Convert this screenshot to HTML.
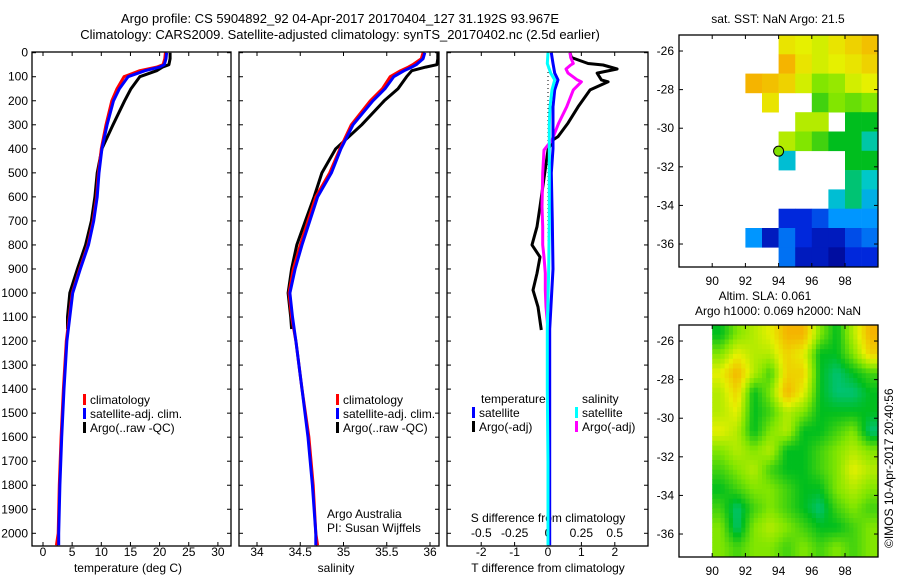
<!DOCTYPE html>
<html><head><meta charset="utf-8"><style>
html,body{margin:0;padding:0;background:#fff}
svg{display:block;font-family:"Liberation Sans",Arial,sans-serif;font-size:12px}
</style></head><body>
<svg id="c" width="900" height="580" xmlns="http://www.w3.org/2000/svg">
<text x="340" y="23" text-anchor="middle" font-size="13">Argo profile: CS 5904892_92 04-Apr-2017 20170404_127 31.192S 93.967E</text>
<text x="340" y="39" text-anchor="middle" font-size="13">Climatology: CARS2009. Satellite-adjusted climatology: synTS_20170402.nc (2.5d earlier)</text>
<text x="778" y="23" text-anchor="middle">sat. SST: NaN Argo: 21.5</text>
<text x="765" y="300" text-anchor="middle">Altim. SLA: 0.061</text>
<text x="778" y="315" text-anchor="middle">Argo h1000: 0.069 h2000: NaN</text>
<text transform="translate(893,548) rotate(-90)">©IMOS 10-Apr-2017 20:40:56</text>
<text x="327" y="518">Argo Australia</text>
<text x="327" y="532">PI: Susan Wijffels</text>
</svg>
<script>
// ---- data ----
const depthClim=[0,25,50,60,75,100,150,200,300,400,500,600,700,800,900,1000,1100,1200,1400,1600,1800,2000,2050];
const tempClim=[21.0,20.9,20.6,19.5,16.6,13.9,12.7,11.8,10.8,10.0,9.5,9.2,8.6,7.7,6.3,5.0,4.5,4.0,3.5,3.1,2.8,2.6,2.3];
const tempSat=[21.2,21.1,20.8,20.0,17.5,14.6,13.1,12.1,11.0,10.1,9.6,9.3,8.7,7.8,6.4,5.1,4.6,4.1,3.6,3.2,2.9,2.7,2.7];
const depthArgo=[0,25,50,60,75,100,150,200,300,400,500,600,700,800,900,1000,1100,1150];
const tempArgo=[21.8,21.8,21.6,20.5,19.5,16.6,15.1,14.0,12.0,10.1,9.3,8.9,8.3,7.3,5.9,4.6,4.2,4.2];
const salClim=[35.92,35.9,35.8,35.75,35.66,35.54,35.45,35.31,35.09,34.96,34.84,34.68,34.59,34.5,34.42,34.37,34.40,34.45,34.52,34.6,34.65,34.68,34.7];
const salSat=[35.94,35.92,35.84,35.79,35.70,35.58,35.48,35.34,35.11,34.97,34.86,34.70,34.61,34.52,34.44,34.38,34.41,34.45,34.52,34.59,34.64,34.68,34.68];
const salArgo=[36.09,36.09,36.08,35.95,35.79,35.73,35.63,35.47,35.21,34.91,34.75,34.66,34.56,34.46,34.40,34.36,34.39,34.40];
const depthDiff=[0,20,45,51,68,85,113,121,155,225,293,349,363,405,502,641,724,800,850,918,988,1058,1154];
const dTArgo=[0.66,0.7,1.2,1.65,2.07,1.47,1.6,1.8,1.26,0.9,0.6,0.3,0.15,0,-0.1,-0.24,-0.33,-0.48,-0.24,-0.33,-0.45,-0.3,-0.2];
const dSArgo=[0.165,0.17,0.19,0.17,0.135,0.15,0.22,0.25,0.19,0.14,0.08,0.04,0.03,-0.03,-0.04,-0.045,-0.04,-0.04,-0.03,-0.02,-0.02,-0.015,0];
const depthSatDiff=[0,45,85,113,155,225,300,400,500,700,900,1150,1400,1700,2050];
const dTSat=[0.1,0.15,0.2,0.3,0.2,0.15,0.15,0.15,0.1,0.13,0.15,0.05,0.05,0.05,0.05];
const dSSat=[0,-0.005,0.02,0.05,0.03,0.015,0.01,0.01,0.01,0.01,0.005,-0.005,-0.005,0,0];
const depthTicks=[0,100,200,300,400,500,600,700,800,900,1000,1100,1200,1300,1400,1500,1600,1700,1800,1900,2000];
const tempTicks=[0,5,10,15,20,25,30];
const salTicks=[34,34.5,35,35.5,36];
const salTickLabels=['34','34.5','35','35.5','36'];
const dTTicks=[-2,-1,0,1,2];
const dSTicks=[-0.5,-0.25,0,0.25,0.5];
const dSTickLabels=['-0.5','-0.25','0','0.25','0.5'];
const lonTicks=[90,92,94,96,98];
const latTicks=[-26,-28,-30,-32,-34,-36];
const sstGrid=[
[-1,-1,-1,-1,-1,-1,0.72,0.7,0.68,0.72,0.75,0.78],
[-1,-1,-1,-1,-1,-1,0.8,0.72,0.68,0.7,0.72,0.75],
[-1,-1,-1,-1,0.8,0.78,0.75,0.68,0.6,0.62,0.68,0.7],
[-1,-1,-1,-1,-1,0.72,-1,-1,0.55,0.6,0.58,0.6],
[-1,-1,-1,-1,-1,-1,-1,0.65,0.65,-1,0.5,0.5],
[-1,-1,-1,-1,-1,-1,0.65,0.6,0.55,0.5,0.5,0.42],
[-1,-1,-1,-1,-1,-1,0.38,-1,-1,-1,0.5,0.5],
[-1,-1,-1,-1,-1,-1,-1,-1,-1,-1,0.45,0.4],
[-1,-1,-1,-1,-1,-1,-1,-1,-1,0.38,0.45,0.35],
[-1,-1,-1,-1,-1,-1,0.15,0.15,0.2,0.3,0.3,0.3],
[-1,-1,-1,-1,0.3,0.1,0.25,0.15,0.1,0.1,0.2,0.25],
[-1,-1,-1,-1,-1,-1,0.25,0.1,0.1,0.05,0.15,0.15]];
const slaGrid=[
[0.5,0.6,0.65,0.7,0.8,0.8,0.6,0.5,0.65,0.8],
[0.6,0.7,0.65,0.65,0.75,0.7,0.5,0.5,0.6,0.75],
[0.7,0.8,0.65,0.55,0.75,0.75,0.5,0.45,0.5,0.55],
[0.65,0.75,0.5,0.6,0.8,0.7,0.5,0.45,0.45,0.5],
[0.65,0.7,0.5,0.55,0.65,0.6,0.5,0.5,0.5,0.5],
[0.7,0.65,0.5,0.6,0.65,0.5,0.5,0.55,0.6,0.45],
[0.6,0.65,0.6,0.65,0.5,0.5,0.55,0.6,0.65,0.6],
[0.55,0.6,0.65,0.55,0.5,0.5,0.55,0.6,0.7,0.65],
[0.5,0.55,0.6,0.6,0.55,0.5,0.5,0.6,0.65,0.6],
[0.55,0.45,0.55,0.6,0.55,0.5,0.45,0.55,0.6,0.55],
[0.6,0.45,0.6,0.65,0.6,0.55,0.5,0.5,0.55,0.6],
[0.6,0.55,0.6,0.6,0.55,0.6,0.55,0.6,0.55,0.6]];
const argoPos=[94.0,-31.19];

// ---- helpers ----
const svg=document.getElementById('c');
const NS='http://www.w3.org/2000/svg';
function mk(tag,attrs,parent){const e=document.createElementNS(NS,tag);for(const k in attrs)e.setAttribute(k,attrs[k]);(parent||svg).appendChild(e);return e;}
const yTop=52.7,yPer=0.2403,pTop=52,pBot=546;
const yD=d=>yTop+d*yPer;
const xT=v=>43+v*5.83;
const xS=v=>257+(v-34)*86.5;
const xDT=v=>548+v*33.4;
const xDS=v=>548+v*133.4;
function pline(depths,vals,fx){return depths.map((d,i)=>fx(vals[i]).toFixed(1)+','+yD(d).toFixed(1)).join(' ');}
function line(pts,color,name,w){const e=mk('polyline',{points:pts,fill:'none',stroke:color,'stroke-width':w||3,'stroke-linejoin':'round'});

return e;}
function frame(x0,x1,y0,y1,name){const e=mk('rect',{x:x0,y:y0,width:x1-x0,height:y1-y0,fill:'none',stroke:'#000','stroke-width':1.3});

}
function txt(x,y,s,anchor,name){const e=mk('text',{x:x,y:y,'text-anchor':anchor||'start'});e.textContent=s;

return e;}
function tick(x1,y1,x2,y2){mk('line',{x1:x1,y1:y1,x2:x2,y2:y2,stroke:'#000','stroke-width':1});}

// ---- profile panels ----
const panels=[[32,231],[239,439],[447,648]];
panels.forEach(p=>{
  depthTicks.forEach(d=>{tick(p[0],yD(d),p[0]+4,yD(d));tick(p[1],yD(d),p[1]-4,yD(d));});
});
depthTicks.forEach(d=>txt(28,yD(d)+4,String(d),'end','depth-tick-label'));
tempTicks.forEach(v=>{tick(xT(v),pBot,xT(v),pBot-4);tick(xT(v),pTop,xT(v),pTop+4);txt(xT(v),556,String(v),'middle','temp-tick-label');});
salTicks.forEach((v,i)=>{tick(xS(v),pBot,xS(v),pBot-4);tick(xS(v),pTop,xS(v),pTop+4);txt(xS(v),556,salTickLabels[i],'middle','salinity-tick-label');});
dTTicks.forEach(v=>{tick(xDT(v),pBot,xDT(v),pBot-4);txt(xDT(v),556,String(v),'middle','tdiff-tick-label');});
dSTicks.forEach((v,i)=>{tick(xDS(v),pTop,xDS(v),pTop+4);txt(xDS(v),537,dSTickLabels[i],'middle','sdiff-tick-label');});
txt(128,572,'temperature (deg C)','middle','temp-axis-title');
txt(336,572,'salinity','middle','salinity-axis-title');
txt(548,572,'T difference from climatology','middle','tdiff-axis-title');
txt(548,522,'S difference from climatology','middle','sdiff-axis-title');

const clip=mk('clipPath',{id:'pc'});mk('rect',{x:0,y:pTop,width:900,height:pBot-pTop},clip);
const g=mk('g',{'clip-path':'url(#pc)'});
function gl(pts,color,name,w){const e=line(pts,color,name,w);g.appendChild(e);}
gl(pline(depthArgo,tempArgo,xT),'#000','temp-argo-line');
gl(pline(depthClim,tempClim,xT),'#f00','temp-climatology-line');
gl(pline(depthClim,tempSat,xT),'#00f','temp-satellite-line');
gl(pline(depthArgo,salArgo,xS),'#000','salinity-argo-line');
gl(pline(depthClim,salClim,xS),'#f00','salinity-climatology-line');
gl(pline(depthClim,salSat,xS),'#00f','salinity-satellite-line');
const z=mk('line',{x1:xDT(0),y1:pTop,x2:xDT(0),y2:pBot,stroke:'#000','stroke-dasharray':'1,3'},g);


gl(pline(depthDiff,dTArgo,xDT),'#000','tdiff-argo-line');
gl(pline(depthDiff,dSArgo,xDS),'#f0f','sdiff-argo-line');
gl(pline(depthSatDiff,dTSat,xDT),'#00f','tdiff-satellite-line');
gl(pline(depthSatDiff,dSSat,xDS),'#0ff','sdiff-satellite-line');
panels.forEach((p,i)=>frame(p[0],p[1],pTop,pBot,'profile-panel-'+(i+1)));

function leg(x,y,color,label,name){const r=mk('rect',{x:x,y:y-10,width:3,height:11,fill:color});


txt(x+7,y,label,'start',name);}
leg(83,404,'#f00','climatology','legend-climatology');
leg(83,418,'#00f','satellite-adj. clim.','legend-satellite-adj');
leg(83,432,'#000','Argo(..raw -QC)','legend-argo');
leg(336,404,'#f00','climatology','legend2-climatology');
leg(336,418,'#00f','satellite-adj. clim.','legend2-satellite-adj');
leg(336,432,'#000','Argo(..raw -QC)','legend2-argo');
txt(481,403,'temperature','start','legend-temperature-heading');
txt(582,403,'salinity','start','legend-salinity-heading');
leg(472,417,'#00f','satellite','legend-t-satellite');
leg(472,431,'#000','Argo(-adj)','legend-t-argo');
leg(575,417,'#0ff','satellite','legend-s-satellite');
leg(575,431,'#f0f','Argo(-adj)','legend-s-argo');

// ---- maps ----
const mx=lon=>679+(lon-88)*16.6;
function cmap(v){const stops=[[0,[0,0,130]],[0.15,[0,40,220]],[0.3,[0,150,255]],[0.4,[0,200,200]],[0.5,[0,190,30]],[0.6,[130,230,0]],[0.7,[230,240,0]],[0.8,[245,180,0]],[1,[240,80,0]]];
for(let i=1;i<stops.length;i++){if(v<=stops[i][0]){const a=stops[i-1],b=stops[i],t=(v-a[0])/(b[0]-a[0]);return 'rgb('+a[1].map((c,k)=>Math.round(c+(b[1][k]-c)*t)).join(',')+')';}}return 'rgb(240,80,0)';}
function mapAxes(top,name){
  const my=lat=>top+(-25.17-lat)*19.3;
  frame(679,878,top,top+232,name+'-frame');
  lonTicks.forEach(l=>{tick(mx(l),top+232,mx(l),top+228);tick(mx(l),top,mx(l),top+4);txt(mx(l),top+250,String(l),'middle',name+'-lon-label');});
  latTicks.forEach(l=>{tick(679,my(l),683,my(l));tick(878,my(l),874,my(l));txt(674,my(l)+4,String(l),'end',name+'-lat-label');});
  return my;
}
// SST blocky
(function(){const top=35,my=lat=>top+(-25.17-lat)*19.3;
sstGrid.forEach((row,r)=>row.forEach((v,c)=>{if(v<0)return;
  const e=mk('rect',{x:mx(88+c).toFixed(1),y:my(-25.17-r).toFixed(1),width:16.9,height:19.6,fill:cmap(v)});
  
  }));})();
const my1=mapAxes(35,'sst-map');
// SLA smooth (bilinear sub-sampling for rendering)
(function(){const top=325,my=lat=>top+(-25.17-lat)*19.3,S=4,R=slaGrid.length,C=slaGrid[0].length;
const gv=(r,c)=>slaGrid[Math.max(0,Math.min(R-1,r))][Math.max(0,Math.min(C-1,c))];
for(let i=0;i<R*S;i++)for(let j=0;j<C*S;j++){
  const fr=(i+0.5)/S-0.5,fc=(j+0.5)/S-0.5,r0=Math.floor(fr),c0=Math.floor(fc),tr=fr-r0,tc=fc-c0;
  const v=(gv(r0,c0)*(1-tc)+gv(r0,c0+1)*tc)*(1-tr)+(gv(r0+1,c0)*(1-tc)+gv(r0+1,c0+1)*tc)*tr;
  const e=mk('rect',{x:mx(90+j/S).toFixed(2),y:my(-25.17-i/S).toFixed(2),width:(16.6/S+0.4).toFixed(2),height:(19.3/S+0.4).toFixed(2),fill:cmap(v)});
  
  }})();
mapAxes(325,'sla-map');
const m=mk('circle',{cx:mx(argoPos[0]),cy:my1(argoPos[1]),r:5,fill:'#80e000',stroke:'#000','stroke-width':1});


</script>
</body></html>
